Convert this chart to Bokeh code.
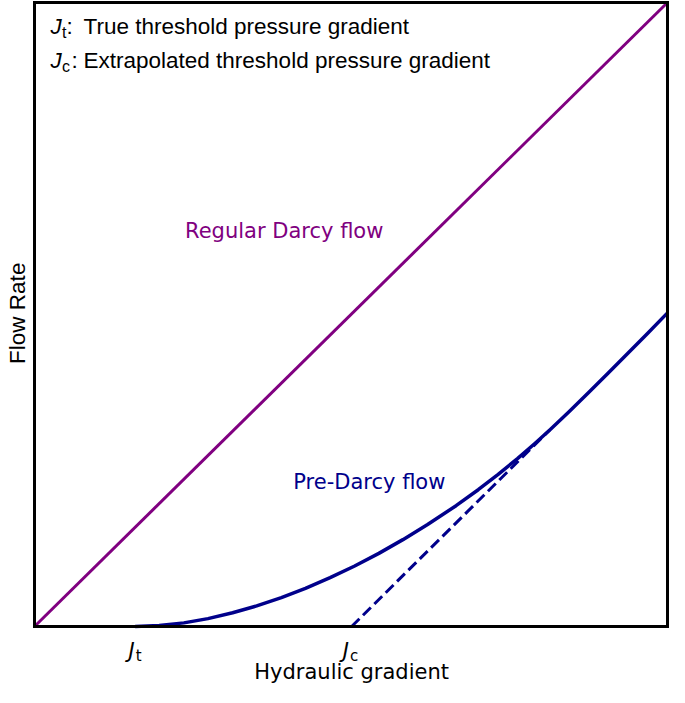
import math
from bokeh.plotting import figure
from bokeh.models import Range1d, Label
from bokeh.embed import file_html
from bokeh.resources import INLINE

# ---- data (box spans 0..10 on both axes) ----
darcy_x = [0.0, 10.0]
darcy_y = [0.0, 10.0]

pre_darcy_x = [1.59, 1.97, 2.36, 2.74, 3.13, 3.51, 3.90, 4.28, 4.67, 5.05, 5.44, 5.82,
               6.21, 6.66, 7.01, 7.32, 7.63, 7.90, 8.14, 8.44, 8.75, 9.06, 9.37, 9.68, 10.0]
pre_darcy_y = [0.000, 0.015, 0.058, 0.126, 0.220, 0.330, 0.463, 0.611, 0.783, 0.965, 1.172, 1.392,
               1.634, 1.936, 2.192, 2.434, 2.691, 2.929, 3.150, 3.438, 3.745, 4.058, 4.374, 4.693, 5.026]

tangent_x = [5.01, 8.14]
tangent_y = [0.00, 3.15]

box_left, box_right, box_bottom, box_top = 0.0, 10.0, 0.0, 10.0

J_t = 1.6
J_c = 5.0
tick_subs = ["t", "c"]

legend_subs = ["t", "c"]
legend_texts = ["True threshold pressure gradient", "Extrapolated threshold pressure gradient"]

PURPLE = "#800080"
BLUE = "#00008B"

W, H = 669, 687
# box placement in pixels (left, right, top, bottom)
BL, BR, BT, BB = 34, 667, 2, 626
sx = (BR - BL) / (box_right - box_left)
sy = (BB - BT) / (box_top - box_bottom)

p = figure(width=W, height=H,
           x_range=Range1d(box_left - BL / sx, box_right + (W - BR) / sx),
           y_range=Range1d(box_bottom - (H - BB) / sy, box_top + BT / sy),
           x_axis_type=None, y_axis_type=None,
           output_backend="svg", toolbar_location=None,
           min_border=0, min_border_left=0, min_border_right=0,
           min_border_top=0, min_border_bottom=0)
p.grid.visible = False
p.outline_line_color = None
p.background_fill_color = "white"
p.border_fill_color = "white"

p.line(darcy_x, darcy_y, line_color=PURPLE, line_width=3)
p.line(pre_darcy_x, pre_darcy_y, line_color=BLUE, line_width=3.5, line_join="round")
p.line(tangent_x, tangent_y, line_color=BLUE, line_width=3, line_dash="11 5")
p.quad(left=[box_left], right=[box_right], bottom=[box_bottom], top=[box_top],
       fill_alpha=0, line_color="black", line_width=3, line_join="miter")

DV = "DejaVu Sans"
LS = "Liberation Sans"


def lab(x, y, text, font, size, color="black", dx=0, dy=0, align="left", style="normal"):
    # dy is the wanted baseline offset in pixels
    up = 0.29 * size
    p.add_layout(Label(x=x, y=y, x_offset=dx, y_offset=dy + up, text=text, text_font=font,
                       text_font_size=f"{size}px", text_font_style=style, text_color=color,
                       text_align=align, text_baseline="alphabetic"))


# curve annotations
lab(3.945, 6.24, "Regular Darcy flow", DV, 21, PURPLE, align="center")
lab(5.29, 2.22, "Pre-Darcy flow", DV, 21, BLUE, align="center")

# x tick labels J_t, J_c
for xv, sub, dx in [(J_t, tick_subs[0], -1), (J_c, tick_subs[1], -2)]:
    lab(xv, 0, "J", DV, 21, dx=dx, dy=-31, align="right", style="italic")
    lab(xv, 0, sub, DV, 15, dx=dx + 1, dy=-34, align="left")

# axis titles
lab(5.01, 0, "Hydraulic gradient", DV, 21, dy=-52, align="center")
p.add_layout(Label(x=0, y=5.02, x_offset=-17, text="Flow Rate", text_font=LS,
                   text_font_size="22.5px", text_color="black", angle=math.pi / 2,
                   text_align="center", text_baseline="alphabetic"))

# legend text block
for i, (sub, txt) in enumerate(zip(legend_subs, legend_texts)):
    base = -31 - 33.2 * i
    colon_dx = 32 if i == 0 else 37
    lab(0, 10, "J", LS, 22.5, dx=16, dy=base, style="italic")
    lab(0, 10, sub, LS, 16, dx=27.5, dy=base - 4)
    lab(0, 10, ":", LS, 22.5, dx=colon_dx, dy=base)
    lab(0, 10, txt, LS, 22.5, dx=49, dy=base)

open("out.html", "w").write(file_html(p, INLINE))
